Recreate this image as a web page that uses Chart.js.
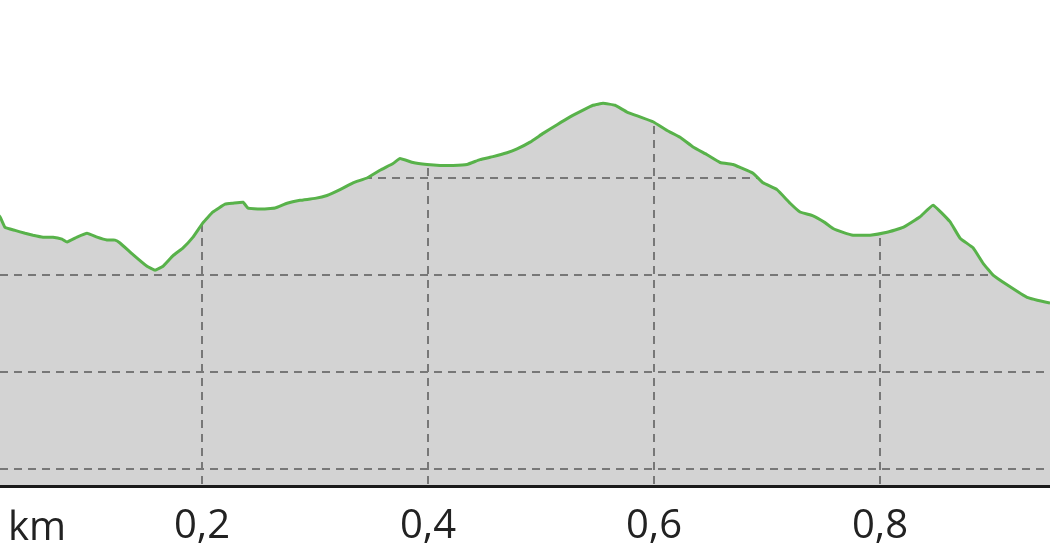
<!DOCTYPE html>
<html>
<head>
<meta charset="utf-8">
<script src="https://cdn.jsdelivr.net/npm/chart.js@4/dist/chart.umd.min.js"></script>
<style>
  html, body { margin: 0; padding: 0; background: #ffffff; }
  #wrap { width: 1050px; height: 560px; position: relative; }
</style>
</head>
<body>
<div id="wrap"><canvas id="c"></canvas></div>
<script>
// distance along the route (km)
const distanceKm = [
  0.0124, 0.0212, 0.0257, 0.0345, 0.0434, 0.0504, 0.0593, 0.0681, 0.0761, 0.0805,
  0.0894, 0.0982, 0.1071, 0.1159, 0.1230, 0.1274, 0.1389, 0.1513, 0.1584, 0.1655,
  0.1743, 0.1832, 0.1920, 0.2009, 0.2097, 0.2204, 0.2274, 0.2363, 0.2407, 0.2513,
  0.2646, 0.2752, 0.2867, 0.3000, 0.3106, 0.3221, 0.3336, 0.3460, 0.3575, 0.3690,
  0.3752, 0.3867, 0.3991, 0.4106, 0.4221, 0.4345, 0.4460, 0.4575, 0.4699, 0.4788,
  0.4903, 0.5018, 0.5142, 0.5257, 0.5372, 0.5460, 0.5549, 0.5655, 0.5761, 0.5876,
  0.5991, 0.6115, 0.6230, 0.6345, 0.6469, 0.6584, 0.6699, 0.6761, 0.6876, 0.6965,
  0.7088, 0.7204, 0.7292, 0.7407, 0.7513, 0.7584, 0.7673, 0.7761, 0.7912, 0.8062,
  0.8204, 0.8354, 0.8469, 0.8619, 0.8708, 0.8823, 0.8912, 0.9000, 0.9124, 0.9301,
  0.9504, 0.9637
];
// elevation (m)
const elevationM = [
  137.2, 136.0, 134.9, 134.6, 134.3, 134.1, 133.9, 133.9, 133.7, 133.4,
  133.9, 134.3, 133.9, 133.6, 133.6, 133.3, 132.1, 130.9, 130.5, 130.9,
  132.0, 132.8, 133.9, 135.4, 136.5, 137.3, 137.4, 137.5, 136.9, 136.8,
  136.9, 137.4, 137.7, 137.9, 138.2, 138.8, 139.5, 140.0, 140.8, 141.5,
  142.0, 141.6, 141.4, 141.3, 141.3, 141.4, 141.9, 142.2, 142.6, 143.0,
  143.7, 144.6, 145.5, 146.3, 147.0, 147.5, 147.7, 147.5, 146.8, 146.3,
  145.8, 144.9, 144.2, 143.2, 142.4, 141.6, 141.4, 141.1, 140.5, 139.5,
  138.8, 137.4, 136.5, 136.1, 135.4, 134.8, 134.4, 134.1, 134.1, 134.4,
  134.9, 136.0, 137.2, 135.5, 133.8, 132.8, 131.2, 130.0, 129.0, 127.7,
  127.1, 126.8
];
const xTicks = [0.2, 0.4, 0.6, 0.8];
const yTicks = [110, 120, 130, 140];
const unitLabel = 'km';

const points = distanceKm.map((d, i) => ({ x: d, y: elevationM[i] }));

const FONT = "'Open Sans', 'Noto Sans', sans-serif";

const bgPlugin = {
  id: 'areaBg',
  beforeDraw(chart) {
    const { ctx, chartArea: a } = chart;
    ctx.save();
    ctx.fillStyle = '#d3d3d3';
    ctx.fillRect(a.left, a.top, a.right - a.left, a.bottom - a.top);
    ctx.restore();
  },
  afterDraw(chart) {
    const { ctx, chartArea: a } = chart;
    ctx.save();
    ctx.font = '40px ' + FONT;
    ctx.fillStyle = '#222222';
    ctx.textAlign = 'left';
    ctx.textBaseline = 'alphabetic';
    ctx.fillText(unitLabel, 8, a.bottom + 54);
    ctx.restore();
  }
};

new Chart(document.getElementById('c'), {
  type: 'line',
  data: {
    datasets: [{
      data: points,
      borderColor: '#58b24a',
      borderWidth: 3,
      backgroundColor: '#ffffff',
      fill: 'end',
      pointRadius: 0,
      tension: 0.1
    }]
  },
  options: {
    responsive: true,
    maintainAspectRatio: false,
    animation: false,
    layout: { padding: 0 },
    plugins: { legend: { display: false }, tooltip: { enabled: false } },
    scales: {
      x: {
        type: 'linear',
        min: 0.0212,
        max: 0.9504,
        afterBuildTicks: (s) => { s.ticks = xTicks.map(v => ({ value: v })); },
        afterFit: (s) => { s.height = 74; },
        ticks: {
          padding: 17,
          color: '#222222',
          font: { family: FONT, size: 40 },
          maxRotation: 0,
          autoSkip: false,
          callback: (v) => Number(v).toFixed(1).replace('.', ',')
        },
        grid: { color: '#777777', lineWidth: 2, drawTicks: false },
        border: { display: true, color: '#1a1a1a', width: 3, dash: [8, 6] }
      },
      y: {
        min: 108.25,
        max: 158.35,
        z: 1,
        afterBuildTicks: (s) => { s.ticks = yTicks.map(v => ({ value: v })); },
        ticks: { display: false },
        grid: { color: '#777777', lineWidth: 2, drawTicks: false },
        border: { display: false, dash: [8, 6] }
      }
    }
  },
  plugins: [bgPlugin]
});
</script>
</body>
</html>
